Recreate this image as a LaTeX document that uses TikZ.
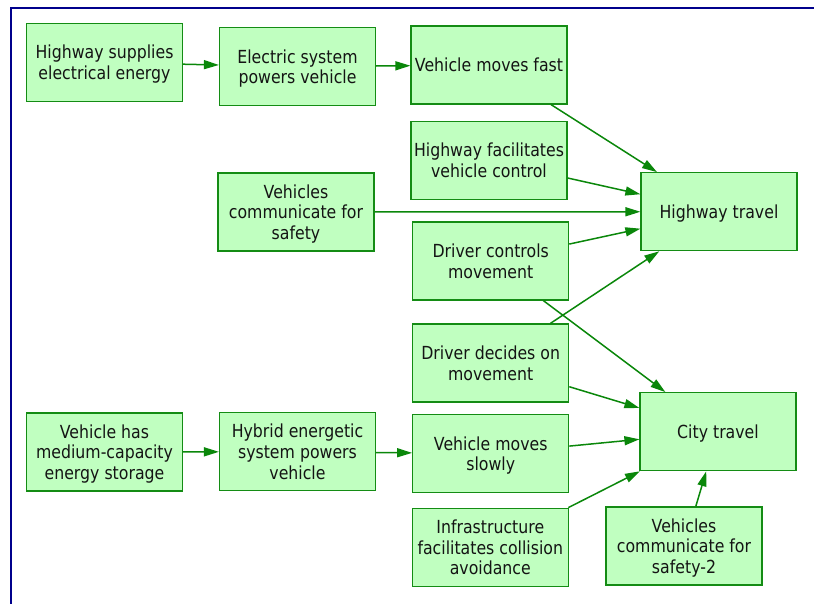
\documentclass[tikz,border=0pt]{standalone}
\usepackage{fontspec}
\setmainfont[FakeStretch=0.875]{DejaVu Sans}
\usetikzlibrary{arrows.meta}

\definecolor{boxfill}{RGB}{192,255,192}
\definecolor{boxline}{RGB}{20,140,20}
\definecolor{linkcol}{RGB}{10,135,10}
\definecolor{framecol}{RGB}{0,0,140}
\definecolor{txtcol}{RGB}{20,20,20}

\tikzset{
  factor/.style={draw=boxline, fill=boxfill, line width=1.2pt,
    minimum width=156pt, minimum height=78pt, inner sep=1pt,
    align=center, text=txtcol, text depth=0pt,
    font=\fontsize{18}{20.8}\selectfont},
  link/.style={draw=linkcol, line width=1.5pt,
    -{Triangle[length=15pt,width=9pt]}},
}

\begin{document}
\begin{tikzpicture}[x=1pt, y=-1pt]
  \useasboundingbox (0,0) rectangle (814,604);

  % frame along the top and left edges
  \draw[framecol, line width=2.2pt] (11,604) -- (11,8) -- (814,8);

  % energy supply chain for highway travel
  \node[factor] (supply)  at (104.5,62.5) {Highway supplies\\electrical energy};
  \node[factor] (elec)    at (297.5,66.7) {Electric system\\powers vehicle};
  \node[factor] (fast)    at (489,65)     {Vehicle moves fast};
  \node[factor] (hwctrl)  at (489,160.5)  {Highway facilitates\\vehicle control};
  \node[factor] (comm)    at (296,212)    {Vehicles\\communicate for\\safety};
  \node[factor] (highway) at (719,211.7)  {Highway travel};
  \node[factor] (control) at (490.7,261)  {Driver controls\\movement};
  \node[factor] (decide)  at (490.7,363)  {Driver decides on\\movement};
  \node[factor] (city)    at (718,431.7)  {City travel};

  % energy supply chain for city travel
  \node[factor] (storage) at (104.5,452)  {Vehicle has\\medium-capacity\\energy storage};
  \node[factor] (hybrid)  at (297.5,451.7){Hybrid energetic\\system powers\\vehicle};
  \node[factor] (slow)    at (490.7,453.7){Vehicle moves\\slowly};
  \node[factor] (infra)   at (490.3,547.2){Infrastructure\\facilitates collision\\avoidance};
  \node[factor] (comm2)   at (684,546)    {Vehicles\\communicate for\\safety-2};

  % links
  \draw[link] (supply)  -- (elec);
  \draw[link] (elec)    -- (fast);
  \draw[link] (fast)    -- (highway);
  \draw[link] (hwctrl)  -- (highway);
  \draw[link] (comm)    -- (highway);
  \draw[link] (control) -- (highway);
  \draw[link] (decide)  -- (highway);
  \draw[link] (control) -- (city);
  \draw[link] (decide)  -- (city);
  \draw[link] (storage) -- (hybrid);
  \draw[link] (hybrid)  -- (slow);
  \draw[link] (slow)    -- (city);
  \draw[link] (infra)   -- (city);
  \draw[link] (comm2)   -- (city);
\end{tikzpicture}
\end{document}
